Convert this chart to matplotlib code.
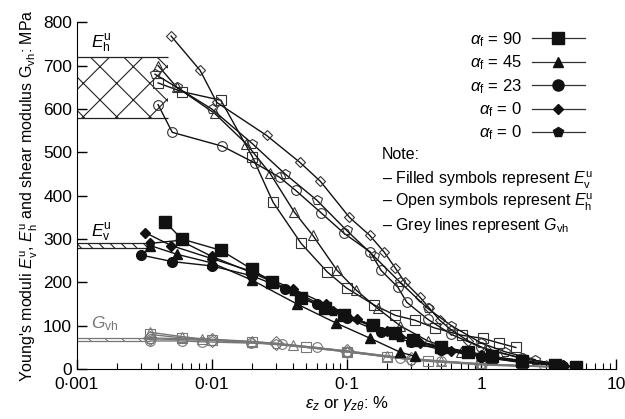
import numpy as np
import matplotlib.pyplot as plt
from matplotlib.lines import Line2D
from matplotlib.ticker import FixedLocator, LogLocator, NullFormatter

plt.rcParams['font.family'] = ['Liberation Sans', 'DejaVu Sans']
plt.rcParams['mathtext.fontset'] = 'custom'
plt.rcParams['mathtext.rm'] = 'Liberation Sans'
plt.rcParams['mathtext.it'] = 'Liberation Sans:italic'
plt.rcParams['hatch.linewidth'] = 0.8

# fibre angle series and their markers
angles = ['90', '45', '23', '0', '0']
markers = ['s', '^', 'o', 'D', 'p']

# horizontal Young's modulus E_h (open symbols), strain in %, modulus in MPa
eh_strain = [
    [0.004, 0.006, 0.0117, 0.02, 0.0285, 0.046, 0.072, 0.1, 0.16, 0.23, 0.32, 0.45, 0.72, 1.02, 1.36, 1.8],
    [0.004, 0.0055, 0.0105, 0.018, 0.027, 0.041, 0.056, 0.085, 0.118, 0.17, 0.25, 0.4, 0.7, 1.2, 2.0],
    [0.004, 0.0051, 0.012, 0.021, 0.032, 0.042, 0.065, 0.096, 0.15, 0.18, 0.24, 0.28, 0.4, 0.6, 1.0, 2.0, 5.0],
    [0.005, 0.0082, 0.0109, 0.0255, 0.045, 0.064, 0.105, 0.148, 0.19, 0.23, 0.27, 0.35, 0.41, 0.49, 0.6, 0.8, 1.1, 2.0, 4.0],
    [0.0038, 0.0055, 0.01, 0.02, 0.035, 0.06, 0.1, 0.16, 0.25, 0.4, 0.6, 1.0, 1.5, 2.5],
]
eh_mod = [
    [660, 640, 620, 490, 385, 290, 224, 187, 148, 124, 113, 95, 78, 71, 60, 50],
    [700, 650, 590, 520, 452, 362, 309, 228, 182, 140, 100, 65, 40, 25, 15],
    [610, 546, 514, 475, 442, 412, 360, 313, 270, 228, 189, 154, 115, 80, 50, 25, 5],
    [768, 689, 615, 539, 477, 433, 350, 309, 270, 233, 201, 166, 141, 113, 90, 65, 45, 25, 10],
    [680, 650, 600, 520, 450, 390, 320, 260, 200, 140, 100, 60, 40, 22],
]

# vertical Young's modulus E_v (filled symbols)
ev_strain = [
    [0.0045, 0.006, 0.0117, 0.02, 0.028, 0.046, 0.069, 0.096, 0.156, 0.23, 0.31, 0.5, 0.8, 1.2, 2.0, 3.5, 5.0],
    [0.0035, 0.0055, 0.01, 0.02, 0.043, 0.084, 0.15, 0.25, 0.32],
    [0.003, 0.0051, 0.01, 0.02, 0.035, 0.06, 0.1, 0.18, 0.3, 0.5, 1.0, 2.0, 4.0],
    [0.0032, 0.005, 0.01, 0.02, 0.04, 0.07, 0.12, 0.2, 0.35, 0.6, 1.0, 2.0, 4.0],
    [0.0035, 0.0058, 0.01, 0.02, 0.04, 0.08, 0.15, 0.25, 0.5, 1.0, 2.0, 4.0],
]
ev_mod = [
    [340, 300, 274, 230, 200, 164, 141, 124, 101, 83, 67, 52, 40, 30, 18, 9, 5],
    [285, 265, 245, 205, 150, 106, 71, 39, 30],
    [263, 248, 238, 215, 185, 150, 118, 85, 62, 45, 28, 16, 7],
    [315, 285, 255, 225, 185, 150, 115, 88, 60, 42, 30, 17, 8],
    [290, 297, 260, 222, 180, 135, 100, 75, 50, 32, 20, 10],
]

# shear modulus G_vh (grey lines)
g_strain = [
    [0.0035, 0.006, 0.01, 0.02, 0.05, 0.1, 0.2, 0.4, 1.0, 2.0],
    [0.0035, 0.006, 0.0084, 0.02, 0.04, 0.1, 0.2, 0.5, 1.0, 2.0, 4.0],
    [0.0035, 0.006, 0.0084, 0.0197, 0.033, 0.06, 0.1, 0.25, 0.5, 1.0, 2.0, 3.5, 5.0],
    [0.0035, 0.01, 0.03, 0.1, 0.3, 1.0, 3.0],
    [0.0035, 0.01, 0.03, 0.1, 0.3, 1.0, 4.0],
]
g_mod = [
    [80, 72, 68, 62, 50, 40, 28, 18, 10, 6],
    [85, 75, 70, 64, 55, 42, 30, 18, 12, 8, 5],
    [65, 65, 63, 60, 57, 50, 40, 25, 18, 12, 8, 5, 4],
    [72, 68, 60, 42, 24, 12, 5],
    [70, 66, 58, 40, 22, 11, 5],
]

# small-strain reference bands (low, high)
eh_band = (580, 720)
ev_band = (280, 290)
g_band = (65, 72)

grey = '#777777'

fig = plt.figure(figsize=(6.25, 4.19), dpi=100)
ax = fig.add_axes([0.123, 0.119, 0.863, 0.828])

# bands
ax.fill_between([0.001, 0.0047], *eh_band, facecolor='none', edgecolor='#222222',
                hatch='x', linewidth=0)
ax.hlines(eh_band, 0.001, 0.0047, color='#222222', lw=0.9)
ax.fill_between([0.001, 0.0037], *ev_band, facecolor='none', edgecolor='#222222',
                hatch='\\\\\\', linewidth=0)
ax.hlines(ev_band, 0.001, 0.0037, color='#222222', lw=0.9)
ax.fill_between([0.001, 0.0035], *g_band, facecolor='none', edgecolor=grey,
                hatch='\\\\', linewidth=0)
ax.hlines(g_band, 0.001, 0.0035, color=grey, lw=0.9)

for xs, ys, m in zip(g_strain, g_mod, markers):
    ax.plot(xs, ys, color=grey, lw=1.0, marker=m, ms=7, mfc='none', mec=grey, mew=0.8)

for xs, ys, m in zip(eh_strain, eh_mod, markers):
    ax.plot(xs, ys, color='#111111', lw=1.0, marker=m, ms=7 if m != 'D' else 5.5,
            mfc='none', mec='#333333', mew=0.8)

for xs, ys, m in zip(ev_strain, ev_mod, markers):
    ax.plot(xs, ys, color='#111111', lw=1.0, marker=m,
            ms={'s': 8, '^': 6.5, 'o': 7, 'D': 5.5, 'p': 6.5}[m],
            mfc='#111111', mec='#111111')

ax.set_xscale('log')
ax.set_xlim(0.001, 10)
ax.set_ylim(0, 800)
ax.xaxis.set_major_locator(FixedLocator([0.001, 0.01, 0.1, 1, 10]))
ax.set_xticklabels(['0·001', '0·01', '0·1', '1', '10'])
ax.xaxis.set_minor_locator(LogLocator(base=10, subs=np.arange(2, 10)))
ax.xaxis.set_minor_formatter(NullFormatter())
ax.set_yticks(np.arange(0, 801, 100))
ax.tick_params(direction='in', labelsize=12.5, length=7, width=1)
ax.tick_params(which='minor', direction='in', length=4, width=0.8)
ax.tick_params(axis='x', pad=6)
ax.spines['top'].set_visible(False)
ax.spines['right'].set_visible(False)

ax.set_xlabel(r'$\varepsilon_z$ or $\gamma_{z\theta}$: %', fontsize=12, labelpad=1)
ax.set_ylabel(r"Young's moduli $E^{\rm u}_{\rm v}$, $E^{\rm u}_{\rm h}$ and shear modulus G$_{\rm vh}$: MPa",
              fontsize=11.5, labelpad=2)

ax.text(0.00128, 740, r'$E^{\rm u}_{\rm h}$', fontsize=12.5)
ax.text(0.00128, 305, r'$E^{\rm u}_{\rm v}$', fontsize=12.5)
ax.text(0.00128, 95, r'$G_{\rm vh}$', fontsize=12.5, color=grey)

handles = [Line2D([], [], color='#333333', lw=0.9, marker=m,
                  ms={'s': 9, '^': 7, 'o': 8, 'D': 5.5, 'p': 7}[m],
                  mfc='#111111', mec='#111111') for m in markers]
labels = [r'$\alpha_{\rm f}$ = ' + a for a in angles]
ax.legend(handles, labels, loc='upper right', bbox_to_anchor=(0.97, 1.02), frameon=False,
          markerfirst=False, handlelength=3.2, fontsize=12, labelspacing=0.28, handletextpad=0.6)

ax.text(0.565, 0.62, 'Note:', transform=ax.transAxes, fontsize=11.5, va='center')
notes = [r'– Filled symbols represent $E^{\rm u}_{\rm v}$',
         r'– Open symbols represent $E^{\rm u}_{\rm h}$',
         r'– Grey lines represent $G_{\rm vh}$']
for i, t in enumerate(notes):
    ax.text(0.565, 0.545 - i * 0.065, t, transform=ax.transAxes, fontsize=11.5, va='center')

fig.savefig('out.png', dpi=100)
